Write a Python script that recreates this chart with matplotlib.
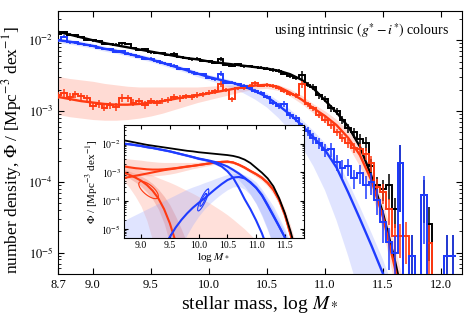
import numpy as np
import matplotlib
matplotlib.use("Agg")
import matplotlib.pyplot as plt

plt.rcParams['font.family'] = ['Liberation Serif', 'DejaVu Serif']
plt.rcParams['mathtext.fontset'] = 'stix'

nan = np.nan
# ---------------- histogram data (bin centres, log10 Phi) ----------------
bin_centres = [8.70, 8.75, 8.80, 8.85, 8.90, 8.95, 9.00, 9.05, 9.10, 9.15,
               9.20, 9.25, 9.30, 9.35, 9.40, 9.45, 9.50, 9.55, 9.60, 9.65,
               9.70, 9.75, 9.80, 9.85, 9.90, 9.95, 10.00, 10.05, 10.10, 10.15,
               10.20, 10.25, 10.30, 10.35, 10.40, 10.45, 10.50, 10.55, 10.60, 10.65,
               10.70, 10.75, 10.80, 10.85, 10.90, 10.95, 11.00, 11.05, 11.10, 11.15,
               11.20, 11.25, 11.30, 11.35, 11.40, 11.45, 11.50, 11.55, 11.60, 11.65,
               11.70, 11.75, 11.80, 11.85, 11.90, 11.95, 12.00, 12.05, 12.10]
bin_width = 0.05

black_hist = [-1.91, -1.89, -1.92, -1.93, -1.95, -1.99, -2.00, -2.01, -2.05, -2.05,
              -2.06, -2.04, -2.05, -2.11, -2.14, -2.13, -2.17, -2.18, -2.18, -2.21,
              -2.19, -2.24, -2.25, -2.27, -2.26, -2.29, -2.30, -2.32, -2.26, -2.35,
              -2.36, -2.34, -2.37, -2.36, -2.38, -2.39, -2.40, -2.42, -2.43, -2.47,
              -2.50, -2.53, -2.49, -2.63, -2.66, -2.78, -2.83, -2.96, -3.00, -3.12,
              -3.24, -3.30, -3.40, -3.45, -3.78, -4.04, -4.10, -4.04, -4.39, -3.73,
              nan, -5.05, nan, -4.18, -4.59, nan, nan, -5.05, -5.05]
blue_hist = [-2.00, -1.95, -2.03, -2.03, -2.05, -2.07, -2.08, -2.11, -2.12, -2.13,
             -2.16, -2.15, -2.19, -2.21, -2.23, -2.26, -2.26, -2.30, -2.32, -2.34,
             -2.36, -2.40, -2.41, -2.45, -2.47, -2.48, -2.53, -2.55, -2.47, -2.60,
             -2.60, -2.62, -2.64, -2.68, -2.72, -2.74, -2.80, -2.88, -2.93, -2.90,
             -3.06, -3.10, -3.22, -3.28, -3.38, -3.45, -3.55, -3.54, -3.72, -3.80,
             -3.78, -3.95, -3.88, -4.05, -4.00, -4.25, -4.57, -4.85, -5.00, -3.73,
             nan, -5.05, nan, -4.18, nan, nan, nan, -5.05, -5.05]
red_hist = [-2.78, -2.74, -2.80, -2.76, -2.79, -2.82, -2.93, -2.90, -2.95, -2.92,
            -2.94, -2.81, -2.82, -2.88, -2.86, -2.91, -2.86, -2.88, -2.86, -2.84,
            -2.80, -2.82, -2.79, -2.80, -2.77, -2.76, -2.74, -2.72, -2.62, -2.70,
            -2.83, -2.68, -2.67, -2.64, -2.60, -2.64, -2.63, -2.65, -2.68, -2.72,
            -2.76, -2.78, -2.62, -2.90, -2.96, -3.05, -3.12, -3.20, -3.30, -3.38,
            -3.45, -3.52, -3.54, -3.60, -3.73, -4.07, -4.15, -4.39, -4.77, -4.77,
            -4.77, nan, nan, nan, -4.86, nan, nan, nan, nan]

# fractional (linear) errors
black_err = [.04, .04, .04, .04, .04, .04, .04, .04, .04, .04,
             .04, .05, .04, .04, .04, .04, .04, .04, .04, .04,
             .05, .04, .04, .04, .04, .04, .04, .04, .06, .04,
             .04, .04, .04, .04, .04, .05, .05, .05, .06, .06,
             .07, .07, .12, .08, .09, .10, .10, .11, .12, .13,
             .15, .16, .18, .22, .25, .30, .32, .40, .45, .80,
             0, 1.0, 0, .6, .7, 0, 0, 1.0, 1.0]
blue_err = [.04, .05, .04, .04, .04, .04, .04, .04, .04, .04,
            .04, .04, .04, .04, .04, .04, .05, .05, .05, .05,
            .05, .05, .05, .05, .05, .05, .05, .05, .08, .05,
            .05, .05, .06, .06, .06, .07, .07, .08, .09, .10,
            .12, .12, .14, .15, .17, .18, .20, .22, .25, .28,
            .28, .30, .30, .35, .35, .40, .50, .60, .70, .80,
            0, 1.0, 0, .8, 0, 0, 0, 1.0, 1.0]
red_err = [.12, .12, .12, .12, .12, .12, .12, .12, .12, .12,
           .12, .12, .12, .12, .12, .12, .10, .10, .10, .10,
           .10, .10, .09, .09, .09, .08, .08, .08, .10, .07,
           .08, .06, .06, .06, .07, .06, .06, .06, .06, .07,
           .07, .07, .12, .08, .09, .10, .10, .11, .12, .13,
           .15, .16, .18, .20, .25, .30, .32, .40, .50, .50,
           .6, 0, 0, 0, .8, 0, 0, 0, 0]

# ---------------- fitted curves (log10 Phi) on a 0.1 dex grid ----------------
fit_mass = [8.7, 8.8, 8.9, 9.0, 9.1, 9.2, 9.3, 9.4, 9.5, 9.6,
            9.7, 9.8, 9.9, 10.0, 10.1, 10.2, 10.3, 10.4, 10.5, 10.6,
            10.7, 10.8, 10.9, 11.0, 11.1, 11.2, 11.3, 11.4, 11.5, 11.6, 11.7]
black_fit = [-1.88, -1.92, -1.96, -2.00, -2.04, -2.07, -2.10, -2.13, -2.16, -2.19,
             -2.22, -2.25, -2.27, -2.30, -2.32, -2.34, -2.36, -2.38, -2.40, -2.43,
             -2.48, -2.56, -2.68, -2.85, -3.02, -3.22, -3.50, -3.92, -4.45, -5.10, -5.85]
blue_fit = [-2.00, -2.02, -2.05, -2.08, -2.12, -2.15, -2.19, -2.23, -2.27, -2.32,
            -2.37, -2.42, -2.47, -2.52, -2.56, -2.60, -2.65, -2.72, -2.80, -2.92,
            -3.05, -3.20, -3.37, -3.55, -3.80, -4.15, -4.52, -4.90, -5.30, -5.75, -6.20]
red_fit = [-2.80, -2.83, -2.86, -2.88, -2.90, -2.91, -2.91, -2.90, -2.88, -2.86,
           -2.83, -2.80, -2.78, -2.75, -2.72, -2.69, -2.66, -2.64, -2.63, -2.66,
           -2.74, -2.84, -2.96, -3.07, -3.20, -3.38, -3.62, -3.98, -4.50, -5.20, -6.00]
red_band_hi = [-2.51, -2.54, -2.56, -2.58, -2.61, -2.63, -2.65, -2.66, -2.66, -2.66,
               -2.66, -2.66, -2.66, -2.65, -2.64, -2.63, -2.62, -2.61, -2.60, -2.63,
               -2.69, -2.78, -2.90, -3.00, -3.12, -3.28, -3.50, -3.85, -4.30, -4.90, -5.60]
red_band_lo = [-3.05, -3.08, -3.10, -3.12, -3.13, -3.13, -3.12, -3.10, -3.07, -3.03,
               -2.98, -2.93, -2.88, -2.84, -2.80, -2.76, -2.72, -2.69, -2.68, -2.71,
               -2.79, -2.90, -3.03, -3.16, -3.30, -3.50, -3.78, -4.15, -4.70, -5.45, -6.30]
blue_band_hi = [-1.97, -1.99, -2.02, -2.05, -2.09, -2.12, -2.16, -2.20, -2.24, -2.29,
                -2.34, -2.39, -2.44, -2.49, -2.53, -2.57, -2.62, -2.68, -2.75, -2.86,
                -2.98, -3.12, -3.28, -3.45, -3.68, -4.00, -4.35, -4.72, -5.10, -5.55, -6.00]
blue_band_lo = [-2.04, -2.06, -2.09, -2.12, -2.16, -2.19, -2.23, -2.27, -2.31, -2.36,
                -2.41, -2.46, -2.52, -2.57, -2.62, -2.68, -2.75, -2.84, -2.95, -3.10,
                -3.28, -3.50, -3.78, -4.12, -4.55, -5.05, -5.60, -6.20, -6.80, -7.40, -8.00]

# ---------------- inset components ----------------
red_comp_a = [-3.21, -3.17, -3.13, -3.09, -3.05, -3.01, -2.97, -2.93, -2.90, -2.87,
              -2.84, -2.81, -2.78, -2.75, -2.72, -2.69, -2.66, -2.64, -2.63, -2.66,
              -2.74, -2.84, -2.96, -3.07, -3.20, -3.38, -3.62, -3.98, -4.50, -5.20, -6.00]
red_comp_b = [-3.01, -3.10, -3.19, -3.30, -3.45, -3.65, -3.92, -4.30, -4.80, -5.45,
              -6.30, -7.3, -8.5, nan, nan, nan, nan, nan, nan, nan,
              nan, nan, nan, nan, nan, nan, nan, nan, nan, nan, nan]
blue_comp_a = [-2.00, -2.02, -2.05, -2.08, -2.12, -2.15, -2.19, -2.23, -2.27, -2.32,
               -2.37, -2.42, -2.47, -2.53, -2.57, -2.62, -2.70, -2.80, -2.97, -3.20,
               -3.55, -3.95, -4.30, -4.70, -5.15, -5.70, -6.4, nan, nan, nan, nan]
blue_comp_b = [-7.5, -7.2, -6.9, -6.6, -6.3, -6.0, -5.8, -5.6, -5.28, -4.95,
               -4.68, -4.45, -4.25, -4.08, -3.93, -3.75, -3.58, -3.42, -3.28, -3.19,
               -3.17, -3.22, -3.35, -3.55, -3.82, -4.18, -4.55, -4.92, -5.30, -5.75, -6.3]
red_b_band_hi = [-2.70, -2.78, -2.86, -2.95, -3.03, -3.11, -3.20, -3.28, -3.36, -3.45,
                 -3.55, -3.65, -3.75, -3.86, -3.98, -4.10, -4.23, -4.36, -4.50, -4.66,
                 -4.83, -5.00, -5.20, -5.40, -5.65, -5.9, -6.2, -6.5, -6.8, -7.1, -7.4]
red_b_band_lo = [-3.30, -3.55, -3.85, -4.20, -4.70, -5.40, -6.2, -7.0, -8.0, -9.0,
                 -9.0, -9.0, -9.0, -9.0, -9.0, -9.0, -9.0, -9.0, -9.0, -9.0,
                 -9.0, -9.0, -9.0, -9.0, -9.0, -9.0, -9.0, -9.0, -9.0, -9.0, -9.0]
red_b_inner_hi = [-2.90, -2.97, -3.05, -3.14, -3.25, -3.40, -3.60, -3.85, -4.15, -4.55,
                  -5.00, -5.50, -6.1, -6.8, -7.5, -8.0, -8.5, -9.0, -9.0, -9.0,
                  -9.0, -9.0, -9.0, -9.0, -9.0, -9.0, -9.0, -9.0, -9.0, -9.0, -9.0]
red_b_inner_lo = [-3.10, -3.22, -3.35, -3.50, -3.70, -3.95, -4.30, -4.80, -5.50, -6.40,
                  -7.5, -8.5, -9.0, -9.0, -9.0, -9.0, -9.0, -9.0, -9.0, -9.0,
                  -9.0, -9.0, -9.0, -9.0, -9.0, -9.0, -9.0, -9.0, -9.0, -9.0, -9.0]
blue_b_band_hi = [-4.70, -4.60, -4.50, -4.40, -4.30, -4.20, -4.10, -4.00, -3.90, -3.80,
                  -3.70, -3.60, -3.52, -3.45, -3.37, -3.30, -3.22, -3.15, -3.08, -3.05,
                  -3.05, -3.10, -3.20, -3.35, -3.60, -3.90, -4.20, -4.60, -5.00, -5.50, -6.0]
blue_b_band_lo = [-9.0, -9.0, -9.0, -9.0, -9.0, -9.0, -9.0, -8.0, -7.0, -6.2,
                  -5.6, -5.2, -4.85, -4.55, -4.30, -4.10, -3.92, -3.76, -3.62, -3.52,
                  -3.50, -3.60, -3.80, -4.10, -4.50, -5.00, -5.60, -6.3, -7.0, -8.0, -9.0]

# ellipse centres (log M, log Phi)
red_ellipse_centre = (9.13, -3.63)
blue_ellipse_centre = (10.08, -3.98)

RED = '#ff3a12'
BLUE = '#1f3cff'
PINK = '#ff9a85'
LBLUE = '#9aa8ff'


def lin(a):
    return 10.0 ** np.asarray(a, dtype=float)


fig = plt.figure(figsize=(4.69, 3.20), dpi=100)
ax = fig.add_axes([0.1237, 0.144, 0.8613, 0.822])

fm = np.asarray(fit_mass)
ax.fill_between(fm, lin(red_band_lo), lin(red_band_hi), color=PINK, alpha=0.35, lw=0, zorder=1)
ax.fill_between(fm, lin(blue_band_lo), lin(blue_band_hi), color=LBLUE, alpha=0.3, lw=0, zorder=1)

ax.plot(fm, lin(black_fit), color='black', lw=1.7, zorder=3)
ax.plot(fm, lin(red_fit), color=RED, lw=1.7, zorder=3)
ax.plot(fm, lin(blue_fit), color=BLUE, lw=1.7, zorder=3)

centres = np.asarray(bin_centres)
edges = np.concatenate([centres - bin_width / 2, [centres[-1] + bin_width / 2]])


def draw_hist(logv, ferr, color, z):
    logv = np.asarray(logv, dtype=float)
    ferr = np.asarray(ferr, dtype=float)
    vals = np.where(np.isnan(logv), -12.0, logv)
    phi = 10.0 ** vals
    ax.stairs(phi, edges, baseline=None, color=color, lw=1.4, zorder=z)
    ok = (~np.isnan(logv)) & (ferr > 0)
    p = phi[ok]
    f = ferr[ok]
    lower = p * np.minimum(f, 0.9999)
    upper = p * f
    ax.errorbar(centres[ok], p, yerr=[lower, upper], fmt='none', ecolor=color,
                elinewidth=1.1, capsize=0, zorder=z)


draw_hist(black_hist, black_err, 'black', 4)
draw_hist(red_hist, red_err, RED, 5)
draw_hist(blue_hist, blue_err, BLUE, 6)

ax.set_yscale('log')
ax.set_xlim(8.7, 12.18)
ax.set_ylim(5e-6, 2.6e-2)
xt = [8.7, 9.0, 9.5, 10.0, 10.5, 11.0, 11.5, 12.0]
ax.set_xticks(xt)
ax.set_xticklabels(['%.1f' % v for v in xt], fontsize=9)
ax.set_yticks([1e-5, 1e-4, 1e-3, 1e-2])
ax.set_yticklabels([r'$10^{-5}$', r'$10^{-4}$', r'$10^{-3}$', r'$10^{-2}$'], fontsize=9)
ax.tick_params(which='both', direction='in', top=True, right=True)
ax.tick_params(which='major', length=4)
ax.tick_params(which='minor', length=2)
ax.set_xlabel(r'stellar mass, log $M_*$', fontsize=14, labelpad=2)
ax.set_ylabel(r'number density, $\Phi$ / [Mpc$^{-3}$ dex$^{-1}$]', fontsize=12.5)
ax.yaxis.set_label_coords(-0.085, 0.47)
ax.text(0.968, 0.925, r'using intrinsic $(g^{*} - i^{*})$ colours', transform=ax.transAxes,
        ha='right', va='center', fontsize=10)

# ---------------- inset ----------------
ins = fig.add_axes([0.264, 0.256, 0.384, 0.353])
ins.set_facecolor('white')
ins.fill_between(fm, lin(red_b_band_lo), lin(red_b_band_hi), color=PINK, alpha=0.3, lw=0)
ins.fill_between(fm, lin(red_b_inner_lo), lin(red_b_inner_hi), color='#e86a5a', alpha=0.3, lw=0)
ins.fill_between(fm, lin(blue_b_band_lo), lin(blue_b_band_hi), color=LBLUE, alpha=0.3, lw=0)
ins.fill_between(fm, lin(red_band_lo), lin(red_band_hi), color=PINK, alpha=0.35, lw=0)
ins.fill_between(fm, lin(blue_band_lo), lin(blue_band_hi), color=LBLUE, alpha=0.35, lw=0)

ins.plot(fm, lin(red_comp_b), color=RED, lw=1.5)
ins.plot(fm, lin(red_comp_a), color=RED, lw=1.5)
ins.plot(fm, lin(red_fit), color=RED, lw=1.5)
ins.plot(fm, lin(blue_comp_b), color=BLUE, lw=1.5)
ins.plot(fm, lin(blue_comp_a), color=BLUE, lw=1.5)
ins.plot(fm, lin(blue_fit), color=BLUE, lw=1.5)
ins.plot(fm, lin(black_fit), color='black', lw=1.3)

# ellipses (drawn in screen-proportional units of the inset)
t = np.linspace(0, 2 * np.pi, 100)
px_per_dex_x, px_per_dex_y = 57.2, 28.5


def ellipse(centre, a, b, ang, color):
    th = np.deg2rad(ang)
    ex = a * np.cos(t) * np.cos(th) - b * np.sin(t) * np.sin(th)
    ey = a * np.cos(t) * np.sin(th) + b * np.sin(t) * np.cos(th)
    ins.plot(centre[0] + ex / px_per_dex_x, 10 ** (centre[1] + ey / px_per_dex_y), color=color, lw=0.8)


ellipse(red_ellipse_centre, 12, 5, -40, RED)
ellipse(blue_ellipse_centre, 12, 2.5, 65, BLUE)
ellipse(blue_ellipse_centre, 7, 1.4, 65, BLUE)

ins.set_yscale('log')
ins.set_xlim(8.7, 11.83)
ins.set_ylim(4.8e-6, 4.5e-2)
ixt = [9.0, 9.5, 10.0, 10.5, 11.0, 11.5]
ins.set_xticks(ixt)
ins.set_xticklabels(['%.1f' % v for v in ixt], fontsize=7)
ins.set_yticks([1e-5, 1e-4, 1e-3, 1e-2])
ins.set_yticklabels([r'$10^{-5}$', r'$10^{-4}$', r'$10^{-3}$', r'$10^{-2}$'], fontsize=7)
ins.tick_params(which='both', direction='in', top=True, right=True, pad=2)
ins.tick_params(which='major', length=3)
ins.tick_params(which='minor', length=1.5)
ins.set_xlabel(r'log $M_*$', fontsize=8, labelpad=1)
ins.set_ylabel(r'$\Phi$ / [Mpc$^{-3}$ dex$^{-1}$]', fontsize=8, labelpad=1)

fig.savefig('out.png', dpi=100)
